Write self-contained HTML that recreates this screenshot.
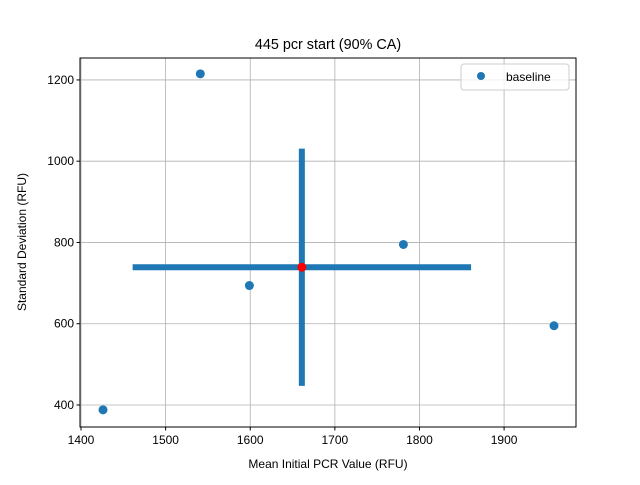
<!DOCTYPE html>
<html><head><meta charset="utf-8"><style>body{margin:0;background:#fff}svg text{font-family:"Liberation Sans","DejaVu Sans",sans-serif}</style></head>
<body>
<svg id="chart" width="640" height="480" xmlns="http://www.w3.org/2000/svg">
<rect width="640" height="480" fill="#fff"/>
<g id="grid"></g>
<g id="marks"></g>
<rect x="80" y="58" width="496" height="369" fill="none" stroke="#000" stroke-width="1"/>
<g id="ticks"></g>
<text x="328" y="49" text-anchor="middle" font-size="14.4">445 pcr start (90% CA)</text>
<text x="328" y="468" text-anchor="middle" font-size="12">Mean Initial PCR Value (RFU)</text>
<text transform="translate(26,242) rotate(-90)" text-anchor="middle" font-size="12">Standard Deviation (RFU)</text>
<g>
<rect x="461" y="64" width="108" height="26" rx="3" fill="#fff" fill-opacity="0.8" stroke="#ccc"/>
<circle cx="481" cy="76" r="4" fill="#1f77b4"/>
<text x="506" y="81" font-size="12">baseline</text>
</g>
</svg>
<script>
const xs = [1426, 1541, 1599, 1781, 1959];
const ys = [388, 1215, 694, 795, 595];
const meanX = [1661];
const meanY = [739];
const errX = [200];
const errY = [292];
const xTicks = [1400, 1500, 1600, 1700, 1800, 1900];
const yTicks = [400, 600, 800, 1000, 1200];
const X0=1398.8, X1=1985, Y0=345.8, Y1=1254;
const L=80,R=576,T=58,B=427;
function sx(v){return L+(v-X0)/(X1-X0)*(R-L);}
function sy(v){return B-(v-Y0)/(Y1-Y0)*(B-T);}
const NS="http://www.w3.org/2000/svg";
function mk(p,tag,a){const e=document.createElementNS(NS,tag);for(const k in a)e.setAttribute(k,a[k]);p.appendChild(e);return e;}
const grid=document.getElementById('grid'),ticks=document.getElementById('ticks'),marks=document.getElementById('marks');
xTicks.forEach(t=>{const x=sx(t);
 const g=mk(grid,'line',{x1:x,x2:x,y1:T,y2:B,stroke:'#b0b0b0','stroke-width':0.8});
 
 
 mk(ticks,'line',{x1:x,x2:x,y1:B,y2:B+3.5,stroke:'#000'});
 const tx=mk(ticks,'text',{x:x,y:B+17,'text-anchor':'middle','font-size':12});tx.textContent=t;
 
 
});
yTicks.forEach(t=>{const y=sy(t);
 const g=mk(grid,'line',{x1:L,x2:R,y1:y,y2:y,stroke:'#b0b0b0','stroke-width':0.8});
 
 
 mk(ticks,'line',{x1:L-3.5,x2:L,y1:y,y2:y,stroke:'#000'});
 const tx=mk(ticks,'text',{x:L-6,y:y+4,'text-anchor':'end','font-size':12});tx.textContent=t;
 
 
});
const h=mk(marks,'line',{x1:sx(meanX[0]-errX[0]),x2:sx(meanX[0]+errX[0]),y1:sy(meanY[0]),y2:sy(meanY[0]),stroke:'#1f77b4','stroke-width':6});


const v=mk(marks,'line',{x1:sx(meanX[0]),x2:sx(meanX[0]),y1:sy(meanY[0]-errY[0]),y2:sy(meanY[0]+errY[0]),stroke:'#1f77b4','stroke-width':6});


xs.forEach((x,i)=>{const c=mk(marks,'circle',{cx:sx(x),cy:sy(ys[i]),r:4.5,fill:'#1f77b4'});
 
 
});
const m=mk(marks,'circle',{cx:sx(meanX[0]),cy:sy(meanY[0]),r:4.5,fill:'#ff0000'});


</script>
</body></html>
